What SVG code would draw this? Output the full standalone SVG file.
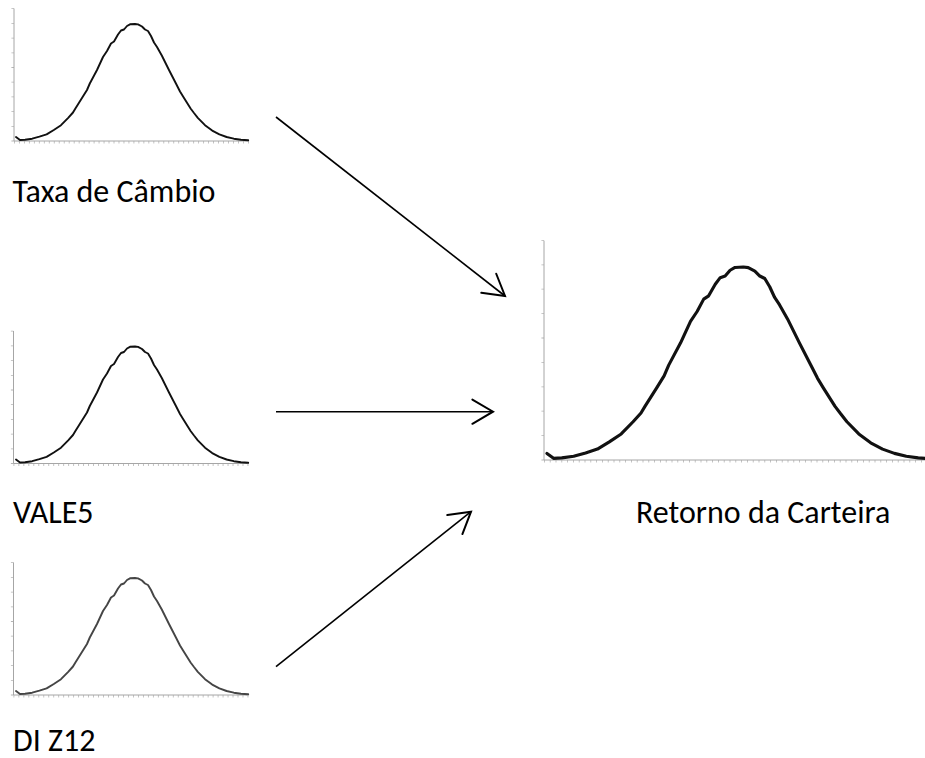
<svg xmlns="http://www.w3.org/2000/svg" xmlns:xlink="http://www.w3.org/1999/xlink" width="925" height="758" viewBox="0 0 925 758">
<style>
.bg{fill:#ffffff}
.axis{stroke:#a6a6a6;stroke-width:1;fill:none}
.tick{fill:none;stroke:#b5b5b5}
.curve{fill:none;stroke:#111111;stroke-width:1.9;stroke-linejoin:round;stroke-linecap:round}
.curve.gray{stroke:#454545}
.conn{stroke:#000000;stroke-width:1.6;fill:none}
.lbl{font-family:Carlito,Lato,"Liberation Sans",sans-serif;font-size:32px;fill:#000000}
</style>
<defs>
<marker id="arr" markerUnits="userSpaceOnUse" markerWidth="30" markerHeight="30" viewBox="-20 -12 22 24" refX="0" refY="0" orient="auto" overflow="visible">
<path d="M-16.5,-9.7 L0,0 L-16.5,9.7" fill="none" stroke="#000" stroke-width="1.6" stroke-linecap="round" stroke-linejoin="miter"/>
</marker>
<path id="bell" d="M-117,-4 L-113,-1 L-108,-1.3 L-100.8,-2.3 L-93.6,-4.3 L-86.4,-6.6 L-79.2,-11 L-72,-15.8 L-64.8,-23.2 L-60,-28.5 L-57.6,-32.5 L-50.4,-43.9 L-46,-51 L-43.2,-57.5 L-36,-71 L-30,-84 L-26,-90 L-22,-97.5 L-19,-99.5 L-15,-106.5 L-12,-110.5 L-9,-111.5 L-6,-115 L-3,-116.7 L2,-117 L5,-116.6 L9,-114.5 L12,-111.5 L15,-110 L18,-105 L21,-98.5 L24,-94 L28.8,-85.5 L36,-71 L43.2,-57 L47,-49.5 L50.4,-43.9 L57.6,-32.5 L61,-28 L64.8,-23.2 L72,-15.8 L79.2,-10.4 L86.4,-6.6 L93.6,-4 L100.8,-2.3 L108,-1.3 L115.2,-0.7"/>
<g id="smallAxes">
<line class="tick" x1="0" y1="1.3" x2="235" y2="1.3" stroke-width="2.6" stroke-dasharray="0.8 4.18"/>
<line class="tick" x1="-1.3" y1="0.4" x2="-1.3" y2="-133" stroke-width="2.6" stroke-dasharray="0.8 13.9"/>
<path class="axis" d="M0,-132.5 V0 H234"/>
</g>
</defs>
<rect class="bg" x="0" y="0" width="925" height="758"/>

<g id="taxa-de-cambio">
<use xlink:href="#smallAxes" transform="translate(14,141)"/>
<use xlink:href="#bell" class="curve" transform="translate(133,141)"/>
<text class="lbl" x="12.5" y="201.5">Taxa de Câmbio</text>
</g>

<g id="vale5">
<use xlink:href="#smallAxes" transform="translate(13.5,463.5)"/>
<use xlink:href="#bell" class="curve" transform="translate(133,463.5)"/>
<text class="lbl" x="13" y="523.3">VALE5</text>
</g>

<g id="di-z12">
<use xlink:href="#smallAxes" transform="translate(13.5,695)"/>
<use xlink:href="#bell" class="curve gray" transform="translate(133,695)"/>
<text class="lbl" x="13" y="751">DI Z12</text>
</g>

<g id="retorno-da-carteira">
<line class="tick" x1="544" y1="461.3" x2="925" y2="461.3" stroke-width="2.6" stroke-dasharray="0.8 5"/>
<line class="tick" x1="542.7" y1="460.4" x2="542.7" y2="240" stroke-width="2.6" stroke-dasharray="0.8 23.6"/>
<path class="axis" d="M544,240.7 V460 H925"/>
<use xlink:href="#bell" class="curve" transform="translate(740,460) scale(1.65)"/>
<text class="lbl" x="636" y="522.7">Retorno da Carteira</text>
</g>

<g id="connectors">
<line class="conn" x1="276" y1="117" x2="505" y2="296" marker-end="url(#arr)"/>
<line class="conn" x1="276" y1="411.7" x2="493" y2="411.7" marker-end="url(#arr)"/>
<line class="conn" x1="276" y1="666.7" x2="471" y2="511.7" marker-end="url(#arr)"/>
</g>
</svg>
